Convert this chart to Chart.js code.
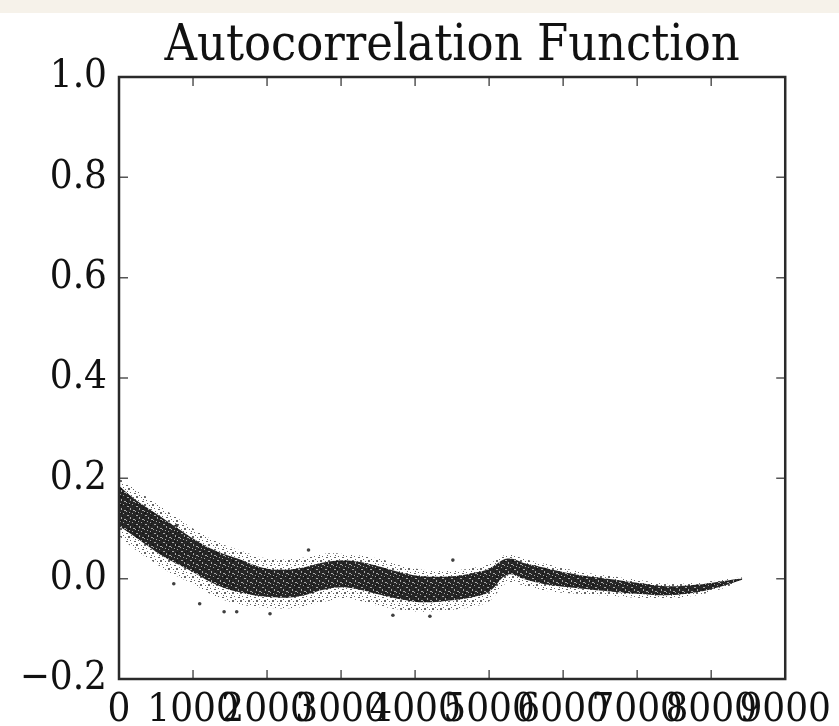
<!DOCTYPE html>
<html>
<head>
<meta charset="utf-8">
<script src="https://cdn.jsdelivr.net/npm/chart.js@4/dist/chart.umd.min.js"></script>
<style>
  html, body { margin: 0; padding: 0; background: #ffffff; }
  #wrap { width: 839px; height: 726px; }
</style>
</head>
<body>
<div id="wrap"><canvas id="acf" width="839" height="726"></canvas></div>
<script>
// values (lag -> autocorrelation)
var lags    = [0, 200, 400, 600, 800, 1000, 1300, 1600, 2000, 2400, 2800, 3100, 3500, 3800, 4100, 4500, 4800, 5000, 5250, 5500, 5800, 6200, 6600, 7000, 7400, 7800, 8100, 8420];
// dense part of the scatter cloud
var coreHi  = [0.185, 0.16, 0.14, 0.12, 0.1, 0.08, 0.056, 0.04, 0.02, 0.02, 0.033, 0.036, 0.025, 0.013, 0.005, 0.005, 0.012, 0.02, 0.04, 0.03, 0.02, 0.008, 0.0, -0.008, -0.015, -0.012, -0.006, 0.001];
var coreLo  = [0.105, 0.085, 0.064, 0.044, 0.028, 0.013, -0.011, -0.026, -0.036, -0.036, -0.021, -0.018, -0.031, -0.041, -0.047, -0.043, -0.036, -0.026, 0.008, -0.002, -0.012, -0.019, -0.025, -0.03, -0.033, -0.027, -0.017, -0.002];
// sparse fringe of the cloud
var outerHi = [0.2, 0.18, 0.16, 0.14, 0.12, 0.1, 0.075, 0.058, 0.04, 0.04, 0.05, 0.048, 0.04, 0.026, 0.018, 0.017, 0.022, 0.03, 0.048, 0.038, 0.028, 0.015, 0.006, -0.002, -0.01, -0.008, -0.003, 0.003];
var outerLo = [0.085, 0.06, 0.04, 0.02, 0.004, -0.01, -0.035, -0.05, -0.058, -0.058, -0.045, -0.04, -0.054, -0.062, -0.066, -0.062, -0.055, -0.045, -0.008, -0.015, -0.025, -0.03, -0.034, -0.038, -0.04, -0.033, -0.022, -0.004];
// stray points outside the cloud
var strayLags = [740, 780, 1090, 1420, 1590, 2040, 2560, 3700, 4200, 4510];
var strayVals = [-0.01, 0.106, -0.05, -0.066, -0.066, -0.07, 0.057, -0.073, -0.075, 0.037];

var xTicks = [0, 1000, 2000, 3000, 4000, 5000, 6000, 7000, 8000, 9000];
var yTicks = [-0.2, 0.0, 0.2, 0.4, 0.6, 0.8, 1.0];

var serif = '"DejaVu Serif Condensed", "DejaVu Serif", serif';

function pts(xs, ys) {
  return xs.map(function (x, i) { return { x: x, y: ys[i] }; });
}

// speckle patterns so the band reads like a point cloud
function speckle(size, fg, dots, bg) {
  var c = document.createElement('canvas');
  c.width = size; c.height = size;
  var g = c.getContext('2d');
  if (bg) { g.fillStyle = bg; g.fillRect(0, 0, size, size); }
  g.fillStyle = fg;
  dots.forEach(function (d) { g.fillRect(d[0], d[1], d[2] || 1, d[3] || 1); });
  return g.createPattern(c, 'repeat');
}
var ctx = document.getElementById('acf').getContext('2d');
var corePattern = speckle(9, 'rgba(255,255,255,0.6)',
  [[1, 2, 2, 1], [6, 0], [4, 4, 1, 2], [0, 7], [7, 6, 2, 1], [3, 8]], 'rgba(15,15,15,0.9)');
var fringePattern = speckle(8, 'rgba(0,0,0,0.6)',
  [[0, 0, 2, 2], [5, 1], [2, 4], [6, 5, 2, 1], [3, 7], [7, 3]]);

//frame with inward ticks, like the original
var framePlugin = {
  id: 'frame',
  beforeDraw: function (chart) {
    var c = chart.ctx;
    c.save();
    c.fillStyle = '#f6f2ea';
    c.fillRect(0, 0, chart.width, 13);
    c.restore();
  },
  afterDraw: function (chart) {
    var a = chart.chartArea, c = chart.ctx;
    var xs = chart.scales.x, ys = chart.scales.y;
    c.save();
    c.strokeStyle = '#555555';
    c.lineWidth = 1.5;
    xs.ticks.forEach(function (t) {
      var px = xs.getPixelForValue(t.value);
      c.beginPath();
      c.moveTo(px, a.bottom); c.lineTo(px, a.bottom - 9);
      c.moveTo(px, a.top); c.lineTo(px, a.top + 9);
      c.stroke();
    });
    ys.ticks.forEach(function (t) {
      var py = ys.getPixelForValue(t.value);
      c.beginPath();
      c.moveTo(a.left, py); c.lineTo(a.left + 9, py);
      c.moveTo(a.right, py); c.lineTo(a.right - 9, py);
      c.stroke();
    });
    c.strokeStyle = '#2a2a2a';
    c.lineWidth = 2.5;
    c.strokeRect(a.left, a.top, a.right - a.left, a.bottom - a.top);
    c.restore();
  }
};

var acf = new Chart(ctx, {
  type: 'line',
  data: {
    datasets: [
      { data: pts(strayLags, strayVals), showLine: false, pointRadius: 1.8, pointBackgroundColor: 'rgba(0,0,0,0.75)', pointBorderWidth: 0, order: 0 },
      { data: pts(lags, coreLo), borderWidth: 0, pointRadius: 0, tension: 0.4, fill: false, order: 1 },
      { data: pts(lags, coreHi), borderWidth: 0, pointRadius: 0, tension: 0.4, fill: '-1', backgroundColor: corePattern, order: 1 },
      { data: pts(lags, outerLo), borderWidth: 0, pointRadius: 0, tension: 0.4, fill: false, order: 2 },
      { data: pts(lags, outerHi), borderWidth: 0, pointRadius: 0, tension: 0.4, fill: '-1', backgroundColor: fringePattern, order: 2 }
    ]
  },
  options: {
    responsive: false,
    animation: false,
    layout: { padding: { top: 0, right: 53, bottom: 0, left: 0 } },
    plugins: {
      legend: { display: false },
      tooltip: { enabled: false },
      title: {
        display: true,
        fullSize: false,
        text: 'Autocorrelation Function',
        color: '#111111',
        font: { family: serif, size: 50, weight: 'normal', lineHeight: 1.2 },
        padding: { top: 17, bottom: 0 }
      }
    },
    scales: {
      x: {
        type: 'linear',
        min: 0,
        max: 9000,
        grid: { display: false, drawTicks: false },
        border: { display: false },
        afterBuildTicks: function (s) { s.ticks = xTicks.map(function (v) { return { value: v }; }); },
        afterFit: function (s) { s.height = 47; },
        ticks: {
          autoSkip: false,
          maxRotation: 0,
          minRotation: 0,
          padding: 8,
          color: '#111111',
          font: { family: serif, size: 40 },
          callback: function (v) { return String(v); }
        }
      },
      y: {
        min: -0.2,
        max: 1.0,
        grid: { display: false, drawTicks: false },
        border: { display: false },
        afterBuildTicks: function (s) { s.ticks = yTicks.map(function (v) { return { value: v }; }); },
        afterFit: function (s) { s.width = 119; },
        ticks: {
          padding: 12,
          color: '#111111',
          font: { family: serif, size: 40 },
          callback: function (v) { return v.toFixed(1).replace('-', '\u2212'); }
        }
      }
    }
  },
  plugins: [framePlugin]
});
</script>
</body>
</html>
